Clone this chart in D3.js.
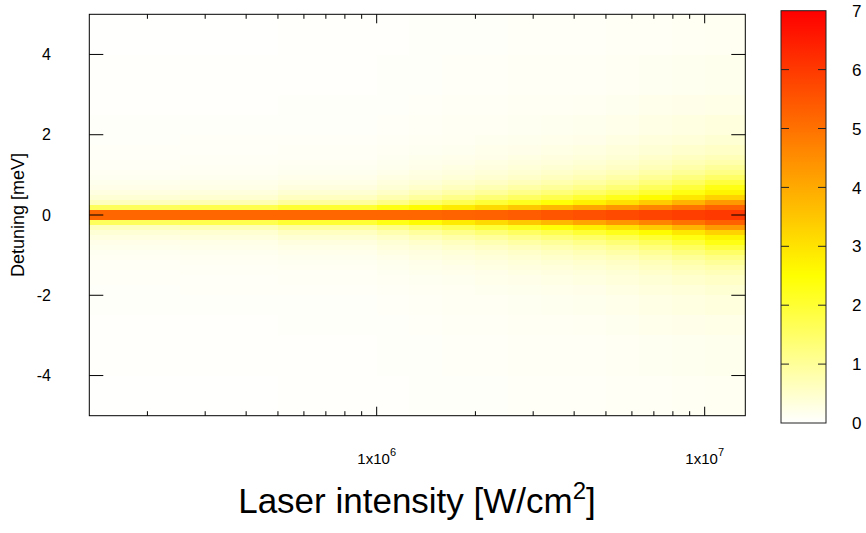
<!DOCTYPE html>
<html>
<head>
<meta charset="utf-8">
<script src="https://cdn.jsdelivr.net/npm/d3@7"></script>
<style>
  body { margin: 0; background: #fff; }
  svg { display: block; font-family: "Liberation Sans", Arial, Helvetica, sans-serif; }
</style>
</head>
<body>
<svg id="chart" width="866" height="533"></svg>
<script>
// ---------------- DATA ----------------
// Column edges, laser intensity in W/cm^2
const intensityEdges = [1.33e5, 2.512e5, 5.012e5, 1.0e6, 1.259e6, 1.585e6, 1.995e6, 2.512e6, 3.162e6, 3.981e6, 5.012e6, 6.310e6, 7.943e6, 1.0e7, 1.33e7];
// Half-row edges in detuning (meV); profile is symmetric about 0
const detuningEdges = [0, 0.125, 0.25, 0.375, 0.5, 0.625, 0.75, 0.875, 1.0, 1.125, 1.25, 1.375, 1.5, 1.75, 2.0, 2.5, 3.0, 4.0, 5.0];
// Values per intensity column, from detuning 0 outward
const col0  = [5.2, 1.6, 0.65, 0.4, 0.29, 0.22, 0.17, 0.14, 0.12, 0.1, 0.09, 0.08, 0.07, 0.06, 0.05, 0.04, 0.03, 0.02];
const col1  = [5.2, 1.75, 0.75, 0.45, 0.32, 0.24, 0.19, 0.15, 0.13, 0.11, 0.1, 0.09, 0.08, 0.07, 0.05, 0.04, 0.03, 0.02];
const col2  = [5.2, 2.0, 0.95, 0.6, 0.42, 0.31, 0.24, 0.19, 0.16, 0.14, 0.12, 0.1, 0.09, 0.07, 0.06, 0.05, 0.04, 0.03];
const col3  = [5.2, 2.3, 1.2, 0.78, 0.55, 0.41, 0.32, 0.26, 0.21, 0.18, 0.16, 0.14, 0.12, 0.1, 0.08, 0.06, 0.05, 0.04];
const col4  = [5.2, 2.55, 1.45, 0.95, 0.68, 0.5, 0.39, 0.31, 0.26, 0.22, 0.19, 0.17, 0.14, 0.12, 0.1, 0.08, 0.06, 0.05];
const col5  = [5.25, 2.85, 1.7, 1.15, 0.83, 0.62, 0.48, 0.38, 0.31, 0.26, 0.22, 0.19, 0.16, 0.13, 0.11, 0.09, 0.07, 0.05];
const col6  = [5.3, 3.15, 1.95, 1.35, 0.98, 0.74, 0.57, 0.45, 0.37, 0.31, 0.26, 0.22, 0.19, 0.15, 0.12, 0.1, 0.08, 0.06];
const col7  = [5.4, 3.45, 2.2, 1.55, 1.15, 0.87, 0.67, 0.53, 0.43, 0.36, 0.3, 0.26, 0.22, 0.17, 0.14, 0.11, 0.09, 0.07];
const col8  = [5.5, 3.75, 2.45, 1.75, 1.32, 1.0, 0.78, 0.62, 0.5, 0.42, 0.35, 0.3, 0.25, 0.2, 0.16, 0.12, 0.1, 0.08];
const col9  = [5.6, 4.05, 2.75, 2.0, 1.5, 1.15, 0.9, 0.72, 0.58, 0.48, 0.4, 0.34, 0.28, 0.22, 0.17, 0.13, 0.1, 0.08];
const col10 = [5.7, 4.35, 3.05, 2.25, 1.72, 1.35, 1.06, 0.85, 0.69, 0.57, 0.48, 0.41, 0.34, 0.27, 0.21, 0.16, 0.12, 0.09];
const col11 = [5.8, 4.65, 3.4, 2.55, 2.0, 1.6, 1.28, 1.03, 0.84, 0.69, 0.58, 0.5, 0.41, 0.32, 0.25, 0.19, 0.14, 0.1];
const col12 = [5.9, 4.95, 3.8, 2.9, 2.33, 1.92, 1.56, 1.26, 1.02, 0.84, 0.7, 0.6, 0.48, 0.37, 0.29, 0.22, 0.16, 0.12];
const col13 = [6.0, 5.3, 4.3, 3.3, 2.7, 2.3, 1.9, 1.5, 1.2, 1.0, 0.8, 0.68, 0.55, 0.42, 0.32, 0.24, 0.18, 0.13];
const columns = [col0, col1, col2, col3, col4, col5, col6, col7, col8, col9, col10, col11, col12, col13];

const yTicks = [-4, -2, 0, 2, 4];
const xMajorTicks = [1e6, 1e7];
const xMajorExponents = ["6", "7"];
const xMinorTicks = [2e5, 3e5, 4e5, 5e5, 6e5, 7e5, 8e5, 9e5, 2e6, 3e6, 4e6, 5e6, 6e6, 7e6, 8e6, 9e6];
const cbTicks = [0, 1, 2, 3, 4, 5, 6, 7];
const colorStops = [0, 2.5, 7];
const colorRange = ["#ffffff", "#ffff00", "#ff0000"];

// ---------------- LAYOUT ----------------
const svg = d3.select("#chart");
const L = 89.3, R = 745.3, T = 14.3, B = 415.7;
const x = d3.scaleLog().domain([1.33e5, 1.33e7]).range([L, R]);
const y = d3.scaleLinear().domain([-5, 5]).range([B, T]);
const color = d3.scaleLinear().domain(colorStops).range(colorRange).clamp(true);
const font = "'Liberation Sans', Arial, Helvetica, sans-serif";

// ---------------- HEATMAP ----------------
const cells = [];
columns.forEach((col, i) => {
  col.forEach((v, j) => {
    cells.push({x0: intensityEdges[i], x1: intensityEdges[i + 1], d0: detuningEdges[j], d1: detuningEdges[j + 1], v});
    cells.push({x0: intensityEdges[i], x1: intensityEdges[i + 1], d0: -detuningEdges[j + 1], d1: -detuningEdges[j], v});
  });
});
svg.append("g").attr("shape-rendering", "crispEdges")
  .selectAll("rect").data(cells).join("rect")
  .attr("x", d => x(d.x0))
  .attr("width", d => x(d.x1) - x(d.x0) + 0.5)
  .attr("y", d => y(d.d1))
  .attr("height", d => y(d.d0) - y(d.d1) + 0.5)
  .attr("fill", d => color(d.v));

// ---------------- AXES ----------------
const g = svg.append("g").attr("stroke", "#000").attr("stroke-width", 1).attr("fill", "none");
yTicks.forEach(t => {
  g.append("line").attr("x1", L).attr("x2", L + 14).attr("y1", y(t)).attr("y2", y(t));
  g.append("line").attr("x1", R - 14).attr("x2", R).attr("y1", y(t)).attr("y2", y(t));
});
xMajorTicks.forEach(t => {
  g.append("line").attr("x1", x(t)).attr("x2", x(t)).attr("y1", B).attr("y2", B - 9);
  g.append("line").attr("x1", x(t)).attr("x2", x(t)).attr("y1", T).attr("y2", T + 9);
});
xMinorTicks.forEach(t => {
  g.append("line").attr("x1", x(t)).attr("x2", x(t)).attr("y1", B).attr("y2", B - 4.5);
  g.append("line").attr("x1", x(t)).attr("x2", x(t)).attr("y1", T).attr("y2", T + 4.5);
});
g.append("rect").attr("x", L).attr("y", T).attr("width", R - L).attr("height", B - T);

// y tick labels
svg.append("g").selectAll("text").data(yTicks).join("text")
  .attr("x", 51).attr("y", d => y(d)).attr("dy", "0.36em")
  .attr("text-anchor", "end").attr("font-size", 16).attr("font-family", font)
  .text(d => d);

// x tick labels
xMajorTicks.forEach((t, i) => {
  const tx = svg.append("text").attr("x", x(t)).attr("y", 464)
    .attr("text-anchor", "middle").attr("font-size", 15).attr("font-family", font);
  tx.append("tspan").text("1x10");
  tx.append("tspan").attr("dy", -8).attr("font-size", 11).text(xMajorExponents[i]);
});

// axis titles
const xt = svg.append("text").attr("x", 417).attr("y", 512.7)
  .attr("text-anchor", "middle").attr("font-size", 35).attr("font-family", font);
xt.append("tspan").text("Laser intensity [W/cm");
xt.append("tspan").attr("dy", -14).attr("font-size", 24).text("2");
xt.append("tspan").attr("dy", 14).text("]");

svg.append("text").attr("transform", `translate(24,${(T + B) / 2}) rotate(-90)`)
  .attr("text-anchor", "middle").attr("font-size", 18).attr("font-family", font)
  .text("Detuning [meV]");

// ---------------- COLORBAR ----------------
const cbL = 781, cbR = 826, cbT = 10.7, cbB = 423;
const cy = d3.scaleLinear().domain([0, 7]).range([cbB, cbT]);
const grad = svg.append("defs").append("linearGradient").attr("id", "cbgrad")
  .attr("x1", 0).attr("y1", 1).attr("x2", 0).attr("y2", 0);
d3.range(0, 7.001, 0.25).forEach(v => {
  grad.append("stop").attr("offset", v / 7).attr("stop-color", color(v));
});
svg.append("rect").attr("x", cbL).attr("y", cbT).attr("width", cbR - cbL).attr("height", cbB - cbT)
  .attr("fill", "url(#cbgrad)").attr("stroke", "#222").attr("stroke-width", 1);
const cg = svg.append("g").attr("stroke", "#222").attr("stroke-width", 1);
cbTicks.filter(t => t > 0 && t < 7).forEach(t => {
  cg.append("line").attr("x1", cbL).attr("x2", cbL + 8).attr("y1", cy(t)).attr("y2", cy(t));
  cg.append("line").attr("x1", cbR - 8).attr("x2", cbR).attr("y1", cy(t)).attr("y2", cy(t));
});
svg.append("g").selectAll("text").data(cbTicks).join("text")
  .attr("x", 852).attr("y", d => cy(d)).attr("dy", "0.36em")
  .attr("font-size", 17).attr("font-family", font)
  .text(d => d);
</script>
</body>
</html>
